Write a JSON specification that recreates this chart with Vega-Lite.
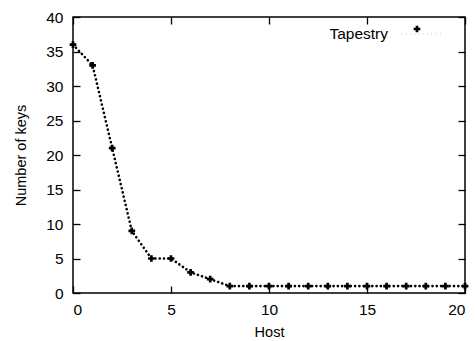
{
  "$schema": "https://vega.github.io/schema/vega-lite/v6.json",
  "autosize": "none",
  "width": 392,
  "height": 276,
  "padding": {"left": 73, "top": 17, "right": 10, "bottom": 48},
  "background": "white",
  "config": {
    "font": "Liberation Sans",
    "view": {"stroke": "black", "strokeWidth": 1.5},
    "axis": {
      "domain": false,
      "grid": false,
      "labelColor": "black",
      "labelFont": "Liberation Sans",
      "labelFontSize": 15.5,
      "titleFont": "Liberation Sans",
      "titleFontSize": 14.5,
      "titleFontWeight": "normal",
      "titleColor": "black"
    }
  },
  "data": {
    "values": [
      {"host": 0, "keys": 36, "series": "Tapestry"},
      {"host": 1, "keys": 33, "series": "Tapestry"},
      {"host": 2, "keys": 21, "series": "Tapestry"},
      {"host": 3, "keys": 9, "series": "Tapestry"},
      {"host": 4, "keys": 5, "series": "Tapestry"},
      {"host": 5, "keys": 5, "series": "Tapestry"},
      {"host": 6, "keys": 3, "series": "Tapestry"},
      {"host": 7, "keys": 2, "series": "Tapestry"},
      {"host": 8, "keys": 1, "series": "Tapestry"},
      {"host": 9, "keys": 1, "series": "Tapestry"},
      {"host": 10, "keys": 1, "series": "Tapestry"},
      {"host": 11, "keys": 1, "series": "Tapestry"},
      {"host": 12, "keys": 1, "series": "Tapestry"},
      {"host": 13, "keys": 1, "series": "Tapestry"},
      {"host": 14, "keys": 1, "series": "Tapestry"},
      {"host": 15, "keys": 1, "series": "Tapestry"},
      {"host": 16, "keys": 1, "series": "Tapestry"},
      {"host": 17, "keys": 1, "series": "Tapestry"},
      {"host": 18, "keys": 1, "series": "Tapestry"},
      {"host": 19, "keys": 1, "series": "Tapestry"},
      {"host": 20, "keys": 1, "series": "Tapestry"}
    ]
  },
  "layer": [
    {
      "mark": {"type": "line", "strokeDash": [0.1, 4.2], "strokeWidth": 2.6, "strokeCap": "round", "clip": false},
      "encoding": {
        "x": {"field": "host", "type": "quantitative", "scale": {"domain": [0, 20], "nice": false, "zero": false},
              "axis": {"orient": "bottom", "values": [0, 5, 10, 15, 20], "title": "Host", "labelPadding": 9, "titlePadding": 8,
                       "ticks": true, "tickSize": 7, "offset": -7, "tickColor": "black", "tickWidth": 1.3, "tickOpacity": 1, "zindex": 2}},
        "y": {"field": "keys", "type": "quantitative", "scale": {"domain": [0, 40], "nice": false},
              "axis": {"orient": "left", "values": [0, 5, 10, 15, 20, 25, 30, 35, 40], "title": "Number of keys", "labelPadding": 10, "titlePadding": 17,
                       "ticks": true, "tickSize": 7, "offset": -7, "tickColor": "black", "tickWidth": 1.3, "tickOpacity": 1, "zindex": 2}},
        "color": {"field": "series", "type": "nominal", "scale": {"range": ["black"]},
                  "legend": {"orient": "none", "legendX": 327, "legendY": -6, "title": null, "padding": 0,
                             "symbolType": "stroke", "symbolStrokeWidth": 2.6, "symbolDash": [0.1, 4.2], "symbolSize": 1800,
                             "labelFontSize": 15.5, "labelFont": "Liberation Sans", "labelColor": "black",
                             "labelAlign": "right", "labelOffset": -58}}
      }
    },
    {
      "mark": {"type": "point", "shape": "cross", "filled": true, "size": 45, "opacity": 1, "clip": false},
      "encoding": {
        "x": {"field": "host", "type": "quantitative", "axis": null},
        "y": {"field": "keys", "type": "quantitative", "axis": null},
        "shape": {"field": "series", "type": "nominal", "scale": {"range": ["cross"]},
                  "legend": {"orient": "none", "legendX": 339, "legendY": 7, "title": null, "padding": 0,
                             "symbolFillColor": "black", "symbolStrokeColor": "black", "symbolSize": 45, "symbolOpacity": 1,
                             "labelFontSize": 10, "labelColor": "transparent"}},
        "color": {"value": "black"}
      }
    },
    {
      "mark": {"type": "point", "opacity": 0},
      "encoding": {
        "x": {"field": "host", "type": "quantitative",
              "axis": {"orient": "top", "values": [0, 5, 10, 15, 20], "labels": false, "title": null,
                       "ticks": true, "tickSize": 7, "offset": -7, "tickColor": "black", "tickWidth": 1.3, "tickOpacity": 1, "zindex": 2}},
        "y": {"field": "keys", "type": "quantitative",
              "axis": {"orient": "right", "values": [0, 5, 10, 15, 20, 25, 30, 35, 40], "labels": false, "title": null,
                       "ticks": true, "tickSize": 7, "offset": -7, "tickColor": "black", "tickWidth": 1.3, "tickOpacity": 1, "zindex": 2}}
      }
    }
  ],
  "resolve": {"axis": {"x": "independent", "y": "independent"}}
}
